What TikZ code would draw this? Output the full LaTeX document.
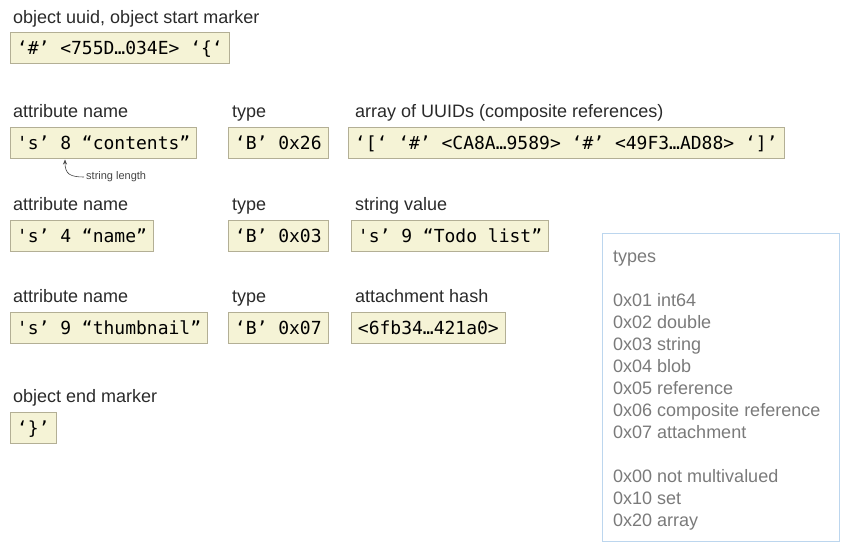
\documentclass[tikz,border=0pt]{standalone}
\usepackage{fontspec}
\setmainfont{Liberation Sans}
\setmonofont{DejaVu Sans Mono}
\usetikzlibrary{arrows.meta}
\definecolor{boxfill}{HTML}{F5F3D6}
\definecolor{boxline}{HTML}{B3AF95}
\definecolor{paneltext}{HTML}{7A7A7A}
\definecolor{panelline}{HTML}{BCD6EE}
\definecolor{labeltext}{HTML}{2A2A2A}
\definecolor{notetext}{HTML}{444444}
\begin{document}
\begin{tikzpicture}[x=1pt,y=-1pt,
  codebox/.style={draw=boxline, fill=boxfill, line width=0.9pt, anchor=north west,
    inner xsep=6.5pt, inner ysep=4pt, text height=18.5pt, text depth=4pt,
    font=\ttfamily\fontsize{18}{18}\selectfont, text=black},
  fieldlabel/.style={anchor=base west, inner sep=0pt,
    font=\fontsize{18}{20}\selectfont, text=labeltext},
  typeline/.style={anchor=base west, inner sep=0pt,
    font=\fontsize{18}{20}\selectfont, text=paneltext},
  notelabel/.style={anchor=west, inner sep=0pt,
    font=\fontsize{11}{12}\selectfont, text=notetext},
  panel/.style={draw=panelline, line width=0.9pt, minimum width=237pt,
    minimum height=308pt, inner sep=0pt},
]
\useasboundingbox (0,0) rectangle (850,552);

% row 1
\node[fieldlabel] (l1) at (13,23) {object uuid, object start marker};
\node[codebox] (b1) at (10,32) {‘\#’ <755D…034E> ‘\{‘};

% row 2
\node[fieldlabel] (l2a) at (13,117) {attribute name};
\node[fieldlabel] (l2b) at (232,117) {type};
\node[fieldlabel] (l2c) at (355,117) {array of UUIDs (composite references)};
\node[codebox] (b2a) at (10,127) {'s’ 8 “contents”};
\node[codebox] (b2b) at (228,127) {‘B’ 0x26};
\node[codebox] (b2c) at (348,127) {‘[‘ ‘\#’ <CA8A…9589> ‘\#’ <49F3…AD88> ‘]’};

% string length note
\node[notelabel] (strlen) at (86,177) {string length};
\coordinate (lentip) at (65,159.5);
\draw[notetext, line width=0.6pt, -{Stealth[length=5pt,width=4pt]}]
  ([xshift=-2pt]strlen.west) .. controls (70,177) and (65,174) .. (lentip);

% row 3
\node[fieldlabel] (l3a) at (13,210) {attribute name};
\node[fieldlabel] (l3b) at (232,210) {type};
\node[fieldlabel] (l3c) at (355,210) {string value};
\node[codebox] (b3a) at (10,220) {'s’ 4 “name”};
\node[codebox] (b3b) at (228,220) {‘B’ 0x03};
\node[codebox] (b3c) at (351,220) {'s’ 9 “Todo list”};

% row 4
\node[fieldlabel] (l4a) at (13,302) {attribute name};
\node[fieldlabel] (l4b) at (232,302) {type};
\node[fieldlabel] (l4c) at (355,302) {attachment hash};
\node[codebox] (b4a) at (10,312) {'s’ 9 “thumbnail”};
\node[codebox] (b4b) at (228,312) {‘B’ 0x07};
\node[codebox] (b4c) at (351,312) {<6fb34…421a0>};

% row 5
\node[fieldlabel] (l5) at (13,402) {object end marker};
\node[codebox] (b5) at (10,412) {‘\}’};

% types panel
\node[panel] (typespanel) at (720.5,387) {};
\node[typeline] (t0) at (613,262) {types};
\node[typeline] (t1) at (613,306) {0x01 int64};
\node[typeline] (t2) at (613,328) {0x02 double};
\node[typeline] (t3) at (613,350) {0x03 string};
\node[typeline] (t4) at (613,372) {0x04 blob};
\node[typeline] (t5) at (613,394) {0x05 reference};
\node[typeline] (t6) at (613,416) {0x06 composite reference};
\node[typeline] (t7) at (613,438) {0x07 attachment};
\node[typeline] (t8) at (613,482) {0x00 not multivalued};
\node[typeline] (t9) at (613,504) {0x10 set};
\node[typeline] (t10) at (613,526) {0x20 array};
\end{tikzpicture}
\end{document}
